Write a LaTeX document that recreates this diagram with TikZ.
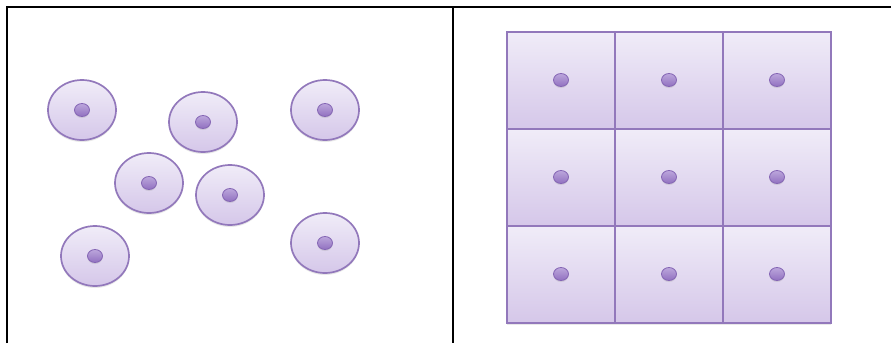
\documentclass[tikz,border=0pt]{standalone}
\usepackage{tikz}
\usetikzlibrary{shadows}

\definecolor{lilacTop}{HTML}{F0ECF8}
\definecolor{lilacBot}{HTML}{D5C7E9}
\definecolor{lilacLine}{HTML}{9278BB}
\definecolor{dotTop}{HTML}{BCA6DC}
\definecolor{dotBot}{HTML}{9171C0}
\definecolor{dotLine}{HTML}{8465B4}

\tikzset{
  cellfill/.style={top color=lilacTop, bottom color=lilacBot,
    drop shadow={opacity=0.18, shadow xshift=0pt, shadow yshift=-2pt}},
  cellshade/.style={cellfill, draw=lilacLine, line width=1.7pt},
  celledge/.style={draw=lilacLine, line width=1.7pt},
  nucleus/.style={draw=dotLine, line width=0.8pt, top color=dotTop, bottom color=dotBot,
    drop shadow={opacity=0.2, shadow xshift=0pt, shadow yshift=-1.5pt}}
}

\begin{document}
\begin{tikzpicture}[x=1pt, y=-1pt]
  \useasboundingbox (0,0) rectangle (891,343);
  % frame: left panel, right panel
  \coordinate (LB) at (7,343);
  \coordinate (LT) at (7,7);
  \coordinate (RT) at (891,7);
  \coordinate (MT) at (453,7);
  \coordinate (MB) at (453,343);
  \draw[line width=1.8pt] (LB)--(LT)--(RT);
  \draw[line width=1.8pt] (MT)--(MB);
  % left: scattered cells
  \coordinate (c1) at (82,110);
  \coordinate (c2) at (203,122);
  \coordinate (c3) at (325,110);
  \coordinate (c4) at (149,183);
  \coordinate (c5) at (230,195);
  \coordinate (c6) at (95,256);
  \coordinate (c7) at (325,243);
  \foreach \c in {c1,c2,c3,c4,c5,c6,c7} {
    \path[cellshade] (\c) ellipse [x radius=34pt, y radius=30pt];
    \path[nucleus] (\c) ellipse [x radius=7.5pt, y radius=6.5pt];
  }
  % right: 3x3 grid of cells (fills first, then edges on top)
  \foreach \i in {0,1,2} {
    \foreach \j in {0,1,2} {
      \path[cellfill] ({507+108*\i},{32+97*\j}) rectangle ++(108,97);
    }
  }
  \foreach \i in {0,1,2} {
    \foreach \j in {0,1,2} {
      \path[celledge] ({507+108*\i},{32+97*\j}) rectangle ++(108,97);
      \path[nucleus] ({561+108*\i},{80+97*\j}) ellipse [x radius=7.5pt, y radius=6.5pt];
    }
  }
\end{tikzpicture}
\end{document}
